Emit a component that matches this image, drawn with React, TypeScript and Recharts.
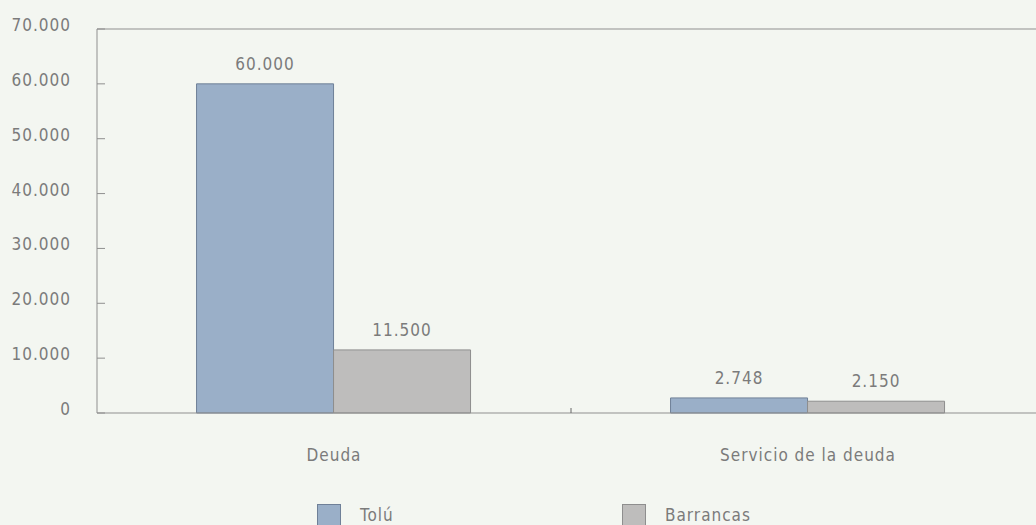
import React from 'react';
import { BarChart, Bar, XAxis, YAxis, Legend, LabelList, ReferenceLine } from 'recharts';

const categories = ['Deuda', 'Servicio de la deuda'];
const tolu = [60000, 2748];
const barrancas = [11500, 2150];
const yTicks = [0, 10000, 20000, 30000, 40000, 50000, 60000, 70000];
const seriesOrder = ['tolu', 'barrancas'];

const data = categories.map((name, i) => ({ name, tolu: tolu[i], barrancas: barrancas[i] }));

const FONT = '"DejaVu Sans Condensed", "Liberation Sans Narrow", "Liberation Sans", sans-serif';
const TEXT = '#7b7b7b';
const AXIS = '#8f8f8f';
const LS = 1;
const COLORS = { tolu: '#9aafc8', barrancas: '#bebdbc' };
const STROKES = { tolu: '#6f8098', barrancas: '#8e8e8e' };

const fmt = (v: number) => v.toLocaleString('de-DE');

const YTick = ({ x, y, payload }: any) => (
  <g>
    <line x1={x} x2={x + 8} y1={y} y2={y} stroke={AXIS} />
    <text x={x - 26} y={y} dy={2} textAnchor="end" fill={TEXT} fontSize={17} letterSpacing={LS} fontFamily={FONT}>
      {fmt(payload.value)}
    </text>
  </g>
);

// category label plus a small upward tick on the boundary after each category
const XTick = ({ x, y, payload, index }: any) => {
  const half = payload.offset || 0;
  return (
    <g>
      {index < categories.length - 1 && (
        <line x1={x + half} x2={x + half} y1={y} y2={y - 5} stroke="#666" />
      )}
      <text x={x} y={y + 36} dy="0.71em" textAnchor="middle" fill={TEXT} fontSize={17} letterSpacing={LS} fontFamily={FONT}>
        {payload.value}
      </text>
    </g>
  );
};

const LegendContent = ({ payload }: any) => {
  const items = [...(payload || [])].sort(
    (a: any, b: any) => seriesOrder.indexOf(a.dataKey) - seriesOrder.indexOf(b.dataKey)
  );
  return (
    <div style={{ display: 'flex', paddingLeft: 317, height: 24 }}>
      {items.map((p: any) => (
        <div key={p.value} style={{ width: 305, display: 'flex', alignItems: 'center' }}>
          <span
            style={{
              width: 22,
              height: 20,
              background: p.color,
              border: `1px solid ${STROKES[p.dataKey as 'tolu' | 'barrancas']}`,
              marginRight: 19,
            }}
          />
          <span style={{ color: TEXT, fontSize: 17, letterSpacing: LS, fontFamily: FONT }}>{p.value}</span>
        </div>
      ))}
    </div>
  );
};

const App = () => {
  return (
    <div style={{ position: 'absolute', left: 0, top: 0, width: 1036, height: 525, overflow: 'hidden', background: '#f3f6f1' }}>
      <BarChart
        width={1050}
        height={530}
        data={data}
        margin={{ top: 29, right: 5, bottom: 3, left: 0 }}
        barGap={0}
        barCategoryGap="21%"
      >
        <XAxis
          dataKey="name"
          height={90}
          tickLine={false}
          tickSize={0}
          tickMargin={0}
          axisLine={{ stroke: AXIS }}
          tick={<XTick />}
          interval={0}
        />
        <YAxis
          width={97}
          domain={[0, 70000]}
          ticks={yTicks}
          tickLine={false}
          tickSize={0}
          tickMargin={0}
          axisLine={{ stroke: AXIS }}
          tick={<YTick />}
          interval={0}
        />
        <ReferenceLine y={70000} stroke={AXIS} />
        <Legend verticalAlign="bottom" content={<LegendContent />} />
        <Bar dataKey="tolu" name="Tolú" fill={COLORS.tolu} stroke={STROKES.tolu} isAnimationActive={false}>
          <LabelList dataKey="tolu" position="top" offset={14} formatter={(v: any) => fmt(v)} fill={TEXT} fontSize={17} letterSpacing={LS} fontFamily={FONT} />
        </Bar>
        <Bar dataKey="barrancas" name="Barrancas" fill={COLORS.barrancas} stroke={STROKES.barrancas} isAnimationActive={false}>
          <LabelList dataKey="barrancas" position="top" offset={14} formatter={(v: any) => fmt(v)} fill={TEXT} fontSize={17} letterSpacing={LS} fontFamily={FONT} />
        </Bar>
      </BarChart>
    </div>
  );
};

export default App;
